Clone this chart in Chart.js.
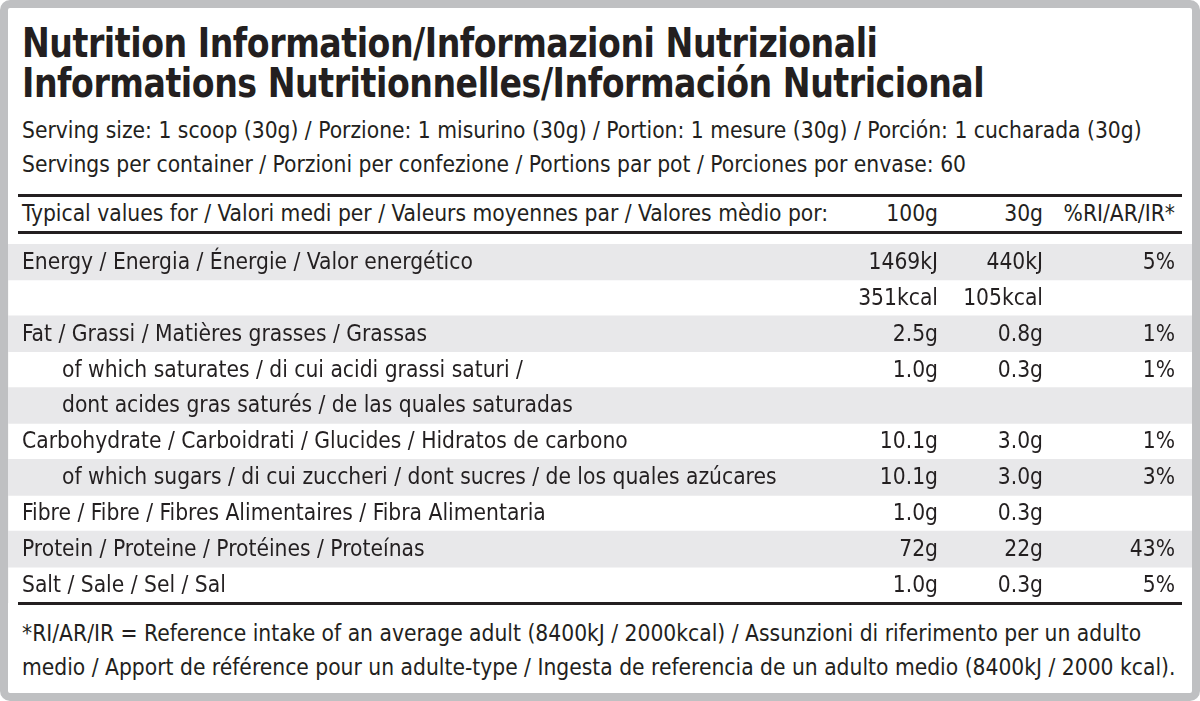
<!DOCTYPE html>
<html>
<head>
<meta charset="utf-8">
<script src="https://cdn.jsdelivr.net/npm/chart.js@4/dist/chart.umd.min.js"></script>
<style>
  html, body { margin: 0; padding: 0; background: #fff; }
  body { width: 1200px; height: 701px; position: relative; overflow: hidden;
         font-family: 'Liberation Sans Narrow', 'DejaVu Sans Condensed', sans-serif; color: #231f20; }
  .frame { position: absolute; left: 0; top: 0; width: 1184px; height: 685px;
           border: 8px solid #bfc0c2; border-radius: 10px; }
  .t { position: absolute; white-space: nowrap; }
  .title { left: 22px; font-size: 41px; font-weight: bold; letter-spacing: -0.5px;
           transform: scaleX(0.9); transform-origin: left top; }
  .txt { left: 22px; font-size: 22.6px; }
  .rule { position: absolute; left: 18px; width: 1164px; height: 3px; background: #231f20; }
  #wrap { position: absolute; left: 8px; top: 244px; width: 1184px; height: 359px; }
</style>
</head>
<body>
<div class="frame"></div>
<div class="t title" style="top:19px">Nutrition Information/Informazioni Nutrizionali</div>
<div class="t title" style="top:59px">Informations Nutritionnelles/Información Nutricional</div>
<div class="t txt" style="top:117px">Serving size: 1 scoop (30g) / Porzione: 1 misurino (30g) / Portion: 1 mesure (30g) / Porción: 1 cucharada (30g)</div>
<div class="t txt" style="top:151px">Servings per container / Porzioni per confezione / Portions par pot / Porciones por envase: 60</div>
<div class="rule" style="top:194px"></div>
<div class="t txt" style="top:200px">Typical values for / Valori medi per / Valeurs moyennes par / Valores mèdio por:</div>
<div class="t txt" style="top:200px; left:auto; right:262px">100g</div>
<div class="t txt" style="top:200px; left:auto; right:157px">30g</div>
<div class="t txt" style="top:200px; left:auto; right:25px">%RI/AR/IR*</div>
<div class="rule" style="top:231px"></div>
<div id="wrap"><canvas id="tbl"></canvas></div>
<div class="rule" style="top:602px"></div>
<div class="t txt" style="top:620px">*RI/AR/IR = Reference intake of an average adult (8400kJ / 2000kcal) / Assunzioni di riferimento per un adulto</div>
<div class="t txt" style="top:654px">medio / Apport de référence pour un adulte-type / Ingesta de referencia de un adulto medio (8400kJ / 2000 kcal).</div>
<script>
const rowLabels = [
    'Energy / Energia / Énergie / Valor energético',
    '',
    'Fat / Grassi / Matières grasses / Grassas',
    'of which saturates / di cui acidi grassi saturi /',
    'dont acides gras saturés / de las quales saturadas',
    'Carbohydrate / Carboidrati / Glucides / Hidratos de carbono',
    'of which sugars / di cui zuccheri / dont sucres / de los quales azúcares',
    'Fibre / Fibre / Fibres Alimentaires / Fibra Alimentaria',
    'Protein / Proteine / Protéines / Proteínas',
    'Salt / Sale / Sel / Sal'
];
const indented = [false, false, false, true, true, false, true, false, false, false];
const per100g = ['1469kJ', '351kcal', '2.5g', '1.0g', '', '10.1g', '10.1g', '1.0g', '72g', '1.0g'];
const per30g = ['440kJ', '105kcal', '0.8g', '0.3g', '', '3.0g', '3.0g', '0.3g', '22g', '0.3g'];
const riPercent = ['5%', '', '1%', '1%', '', '1%', '3%', '', '43%', '5%'];
const shaded = [1, 0, 1, 0, 1, 0, 1, 0, 1, 0];

const textPlugin = {
    id: 'tableText',
    afterDatasetsDraw: function (chart) {
        const ctx = chart.ctx;
        const y = chart.scales.y;
        ctx.save();
        ctx.fillStyle = '#231f20';
        ctx.font = "22.6px 'Liberation Sans Narrow', 'DejaVu Sans Condensed', sans-serif";
        ctx.textBaseline = 'middle';
        rowLabels.forEach(function (label, i) {
            const py = y.getPixelForValue(i) + 1;
            ctx.textAlign = 'left';
            ctx.fillText(label, indented[i] ? 54 : 14, py);
            ctx.textAlign = 'right';
            ctx.fillText(per100g[i], 930, py);
            ctx.fillText(per30g[i], 1035, py);
            ctx.fillText(riPercent[i], 1167, py);
        });
        ctx.restore();
    }
};

new Chart(document.getElementById('tbl'), {
    type: 'bar',
    data: {
        labels: rowLabels.map(function (l, i) { return 'r' + i; }),
        datasets: [{
            data: shaded,
            backgroundColor: '#e8e8ea',
            barPercentage: 1,
            categoryPercentage: 1
        }]
    },
    options: {
        indexAxis: 'y',
        responsive: true,
        maintainAspectRatio: false,
        animation: false,
        layout: { padding: 0 },
        plugins: { legend: { display: false }, tooltip: { enabled: false } },
        scales: {
            x: { display: false, min: 0, max: 1 },
            y: { display: false }
        }
    },
    plugins: [textPlugin]
});
</script>
</body>
</html>
